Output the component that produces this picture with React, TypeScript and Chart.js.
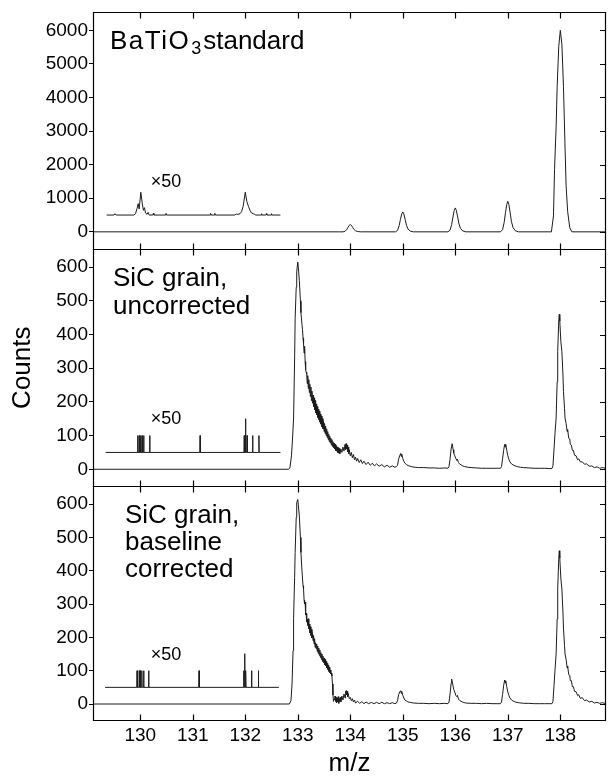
import React, { useEffect, useRef } from "react";
import { Chart, registerables } from "chart.js";

Chart.register(...registerables);

// ---------- axis ranges and ticks ----------
const X_MIN = 129.1;
const X_MAX = 138.87;
const X_TICKS = [130, 131, 132, 133, 134, 135, 136, 137, 138];
const PANEL_IDS = ["y1", "y2", "y3"];
const Y1_RANGE = [-519, 6533];
const Y2_RANGE = [-50, 653];
const Y3_RANGE = [-48, 654];
const Y1_TICKS = [0, 1000, 2000, 3000, 4000, 5000, 6000];
const Y23_TICKS = [0, 100, 200, 300, 400, 500, 600];

// ---------- text ----------
const TITLE_1 = ["BaTiO", "3", "standard"];
const TITLE_2 = ["SiC grain,", "uncorrected"];
const TITLE_3 = ["SiC grain,", "baseline", "corrected"];
const INSET_LABEL = "\u00d750";
const INSET_LABEL_X = 130.2;
const INSET_LABEL_Y = [1320, 133, 131];
const X_TITLE = "m/z";
const Y_TITLE = "Counts";

// ---------- data: BaTiO3 standard ----------
const batioMain: [number, number][] = [
  [129.1, 0], [133.8, 0],
  [133.86, 0], [133.9, 15], [133.93, 65], [133.955, 134], [133.98, 194], [134.0, 216], [134.02, 196], [134.045, 134], [134.07, 71], [134.1, 30], [134.14, 9], [134.2, 0],
  [134.86, 0], [134.9, 42], [134.93, 178], [134.955, 368], [134.98, 534], [135.0, 593], [135.02, 534], [135.045, 368], [135.07, 196], [135.1, 83], [135.14, 24], [135.2, 0],
  [135.86, 0], [135.9, 50], [135.93, 213], [135.955, 441], [135.98, 640], [136.0, 711], [136.02, 640], [136.045, 441], [136.07, 235], [136.1, 100], [136.14, 28], [136.2, 0],
  [136.86, 0], [136.9, 64], [136.93, 273], [136.955, 564], [136.98, 819], [137.0, 910], [137.02, 819], [137.045, 564], [137.07, 300], [137.1, 127], [137.14, 36], [137.2, 0],
  [137.83, 0], [137.87, 480], [137.89, 1860], [137.92, 3120], [137.94, 4320], [137.97, 5520], [138.0, 6000], [138.03, 5580], [138.06, 4320], [138.09, 2520], [138.11, 1380], [138.14, 600], [138.18, 120], [138.22, 0],
  [138.87, 0],
];

const batioInset: [number, number][] = [
  [129.36, 500], [129.5, 500], [129.52, 540], [129.54, 500], [129.88, 500], [129.91, 540], [129.94, 700], [129.96, 840],
  [129.98, 680], [130.01, 1180], [130.04, 830], [130.06, 640], [130.08, 720], [130.1, 560], [130.13, 520], [130.15, 580],
  [130.17, 500], [130.24, 500], [130.25, 550], [130.26, 500], [130.48, 500], [130.49, 550], [130.5, 500], [131.33, 500],
  [131.34, 550], [131.35, 500], [131.41, 500], [131.42, 550], [131.43, 500], [131.8, 500], [131.83, 530], [131.86, 520],
  [131.9, 540], [131.93, 600], [131.96, 760], [132.0, 1180], [132.03, 900], [132.06, 760], [132.09, 640], [132.12, 560],
  [132.15, 540], [132.18, 520], [132.2, 500], [132.3, 500], [132.31, 540], [132.32, 500], [132.39, 500], [132.4, 540],
  [132.41, 500], [132.49, 500], [132.5, 540], [132.51, 500], [132.67, 500],
];

// ---------- data: SiC grain, uncorrected ----------
const sicRawMain: [number, number][] = [
  [129.1, 0], [132.82, 0], [132.85, 4], [132.88, 40], [132.9, 90], [132.92, 152], [132.94, 330], [132.95, 448], [132.97, 540], [132.98, 586],
  [133.0, 615], [133.01, 600], [133.03, 560], [133.05, 500], [133.06, 465], [133.08, 430], [133.09, 415], [133.1, 390], [133.11, 372], [133.12, 345],
  [133.13, 365], [133.14, 320], [133.15, 296], [133.16, 288], [133.17, 282], [133.18, 254], [133.19, 278], [133.2, 240], [133.21, 266], [133.22, 228],
  [133.23, 252], [133.24, 216], [133.25, 244], [133.26, 204], [133.27, 232], [133.28, 196], [133.29, 220], [133.3, 186], [133.31, 212], [133.32, 176],
  [133.33, 204], [133.34, 168], [133.35, 194], [133.36, 162], [133.37, 186], [133.38, 154], [133.39, 178], [133.4, 148], [133.41, 172], [133.42, 140],
  [133.43, 164], [133.44, 134], [133.45, 158], [133.46, 126], [133.47, 150], [133.48, 120], [133.49, 142], [133.5, 112], [133.51, 136], [133.52, 106],
  [133.53, 128], [133.54, 100], [133.55, 120], [133.56, 94], [133.57, 112], [133.58, 88], [133.59, 104], [133.6, 82], [133.61, 98], [133.62, 78],
  [133.63, 92], [133.64, 72], [133.65, 88], [133.66, 68], [133.67, 82], [133.68, 64], [133.69, 78], [133.7, 60], [133.71, 74], [133.72, 56],
  [133.73, 70], [133.74, 54], [133.75, 66], [133.76, 50], [133.77, 64], [133.78, 48], [133.79, 62], [133.8, 46], [133.82, 60], [133.84, 50],
  [133.86, 66], [133.88, 54], [133.9, 74], [133.91, 58], [133.92, 76], [133.93, 60], [133.94, 72], [133.95, 52], [133.96, 66], [133.97, 46],
  [133.98, 58], [134.0, 40], [134.02, 50], [134.04, 34], [134.06, 44], [134.08, 28], [134.1, 36], [134.12, 24], [134.14, 32], [134.17, 20],
  [134.2, 28], [134.23, 17], [134.26, 24], [134.3, 14], [134.34, 21], [134.38, 12], [134.42, 18], [134.46, 10], [134.5, 16], [134.55, 9],
  [134.6, 14], [134.65, 7], [134.7, 12], [134.75, 6], [134.8, 10], [134.85, 6], [134.88, 8],
  [134.9, 12], [134.92, 30], [134.94, 40], [134.96, 47], [134.97, 38], [134.98, 45], [135.0, 32], [135.02, 24], [135.04, 18], [135.07, 14],
  [135.1, 11], [135.14, 9], [135.18, 7], [135.24, 6], [135.3, 5], [135.4, 5], [135.5, 4], [135.6, 4], [135.7, 3], [135.8, 4], [135.86, 3],
  [135.88, 8], [135.9, 30], [135.92, 60], [135.94, 76], [135.96, 58], [135.97, 48], [135.99, 40], [136.01, 32], [136.03, 26], [136.04, 30],
  [136.06, 20], [136.08, 16], [136.11, 13], [136.14, 10], [136.18, 8], [136.24, 6], [136.3, 5], [136.4, 4], [136.5, 3], [136.6, 3], [136.7, 3],
  [136.8, 3], [136.86, 3],
  [136.88, 8], [136.9, 30], [136.92, 56], [136.94, 74], [136.95, 66], [136.96, 74], [136.98, 56], [137.0, 40], [137.02, 30], [137.04, 22],
  [137.07, 16], [137.1, 13], [137.14, 10], [137.18, 8], [137.24, 6], [137.3, 5], [137.4, 4], [137.5, 3], [137.6, 3], [137.7, 3], [137.8, 2], [137.84, 2],
  [137.86, 10], [137.88, 60], [137.9, 110], [137.92, 152], [137.94, 260], [137.95, 349], [137.97, 440], [137.98, 460], [137.99, 440], [138.01, 380],
  [138.03, 349], [138.05, 280], [138.06, 231], [138.08, 180], [138.09, 152], [138.11, 136], [138.13, 112], [138.14, 118], [138.16, 92], [138.18, 90],
  [138.19, 74], [138.21, 72], [138.23, 56], [138.25, 56], [138.27, 42], [138.3, 40], [138.33, 28], [138.35, 31], [138.38, 22], [138.42, 22],
  [138.46, 15], [138.5, 16], [138.55, 9], [138.6, 10], [138.65, 5], [138.7, 7], [138.75, 3], [138.8, 5], [138.87, 3],
];

const sicRawInset: [number, number][] = [
  [129.34, 50], [129.945, 50], [129.95, 100], [129.955, 50], [129.975, 50], [129.98, 100], [129.985, 50], [130.0, 50], [130.005, 100],
  [130.01, 50], [130.03, 50], [130.035, 100], [130.04, 50], [130.06, 50], [130.065, 100], [130.07, 50], [130.175, 50], [130.18, 100],
  [130.185, 50], [131.135, 50], [131.14, 100], [131.145, 50], [131.975, 50], [131.98, 100], [131.985, 50], [132.0, 50], [132.005, 150],
  [132.01, 50], [132.03, 50], [132.035, 100], [132.04, 50], [132.135, 50], [132.14, 100], [132.145, 50], [132.255, 50], [132.26, 100],
  [132.265, 50], [132.67, 50],
];

// ---------- data: SiC grain, baseline corrected ----------
const sicCorrMain: [number, number][] = [
  [129.1, 0], [132.84, 0], [132.87, 10], [132.89, 57], [132.91, 160], [132.92, 256], [132.94, 380], [132.95, 455], [132.97, 560], [132.98, 604],
  [133.0, 614], [133.01, 598], [133.03, 564], [133.05, 500], [133.06, 455], [133.08, 400], [133.1, 355], [133.11, 345], [133.12, 312], [133.13, 300],
  [133.14, 306], [133.15, 268], [133.16, 272], [133.17, 246], [133.18, 254], [133.19, 236], [133.2, 256], [133.21, 226], [133.22, 240], [133.23, 214],
  [133.24, 232], [133.25, 206], [133.26, 224], [133.27, 198], [133.28, 214], [133.29, 190], [133.3, 206], [133.31, 180], [133.32, 196], [133.33, 170],
  [133.34, 184], [133.35, 166], [133.36, 180], [133.37, 158], [133.38, 174], [133.39, 152], [133.4, 168], [133.41, 146], [133.42, 162], [133.43, 140],
  [133.44, 154], [133.45, 134], [133.46, 150], [133.47, 128], [133.48, 144], [133.49, 124], [133.5, 138], [133.51, 118], [133.52, 134], [133.53, 114],
  [133.54, 128], [133.55, 108], [133.56, 122], [133.57, 104], [133.58, 116], [133.59, 98], [133.6, 110], [133.61, 94], [133.62, 102], [133.63, 90],
  [133.64, 92], [133.65, 84], [133.66, 60], [133.67, 27], [133.68, 8], [133.69, 14], [133.7, 12], [133.71, 24], [133.72, 8], [133.73, 20],
  [133.74, 4], [133.75, 18], [133.76, 6], [133.77, 22], [133.78, 2], [133.79, 16], [133.8, 8], [133.81, 20], [133.82, 6], [133.84, 24],
  [133.86, 12], [133.88, 30], [133.9, 18], [133.91, 36], [133.92, 40], [133.93, 28], [133.94, 38], [133.95, 22], [133.96, 32], [133.98, 16],
  [134.0, 20], [134.02, 10], [134.04, 16], [134.06, 6], [134.08, 12], [134.1, 3], [134.14, 8], [134.18, 2], [134.22, 7], [134.26, 1],
  [134.3, 6], [134.35, 1], [134.4, 5], [134.45, 1], [134.5, 5], [134.55, 1], [134.6, 5], [134.65, 1], [134.7, 4], [134.75, 1], [134.8, 4],
  [134.85, 1], [134.88, 3],
  [134.9, 10], [134.92, 28], [134.94, 36], [134.96, 40], [134.97, 32], [134.98, 38], [135.0, 26], [135.02, 18], [135.04, 12], [135.07, 9],
  [135.1, 6], [135.14, 5], [135.2, 3], [135.3, 2], [135.4, 2], [135.5, 1], [135.6, 2], [135.7, 1], [135.8, 2], [135.86, 1],
  [135.88, 6], [135.9, 30], [135.92, 62], [135.93, 75], [135.95, 60], [135.97, 44], [135.99, 36], [136.01, 26], [136.03, 22], [136.04, 26],
  [136.06, 15], [136.08, 11], [136.11, 8], [136.15, 5], [136.2, 3], [136.3, 2], [136.4, 2], [136.5, 1], [136.6, 2], [136.7, 1], [136.8, 1], [136.86, 1],
  [136.88, 6], [136.9, 28], [136.92, 55], [136.94, 72], [136.95, 63], [136.96, 70], [136.98, 52], [137.0, 36], [137.02, 26], [137.04, 18],
  [137.07, 12], [137.1, 9], [137.14, 6], [137.2, 4], [137.3, 2], [137.4, 2], [137.5, 1], [137.6, 1], [137.7, 1], [137.8, 1], [137.84, 1],
  [137.86, 8], [137.88, 55], [137.9, 105], [137.92, 150], [137.94, 255], [137.95, 345], [137.97, 435], [137.98, 460], [137.99, 438], [138.01, 378],
  [138.03, 345], [138.05, 276], [138.06, 228], [138.08, 176], [138.09, 150], [138.11, 134], [138.13, 108], [138.14, 114], [138.16, 88], [138.18, 86],
  [138.19, 70], [138.21, 70], [138.23, 52], [138.25, 52], [138.27, 38], [138.3, 37], [138.33, 25], [138.35, 28], [138.38, 17], [138.42, 19],
  [138.46, 10], [138.5, 12], [138.55, 6], [138.6, 8], [138.65, 3], [138.7, 5], [138.75, 2], [138.8, 4], [138.87, 1],
];

const sicCorrInset: [number, number][] = [
  [129.33, 50], [129.935, 50], [129.94, 100], [129.945, 50], [129.975, 50], [129.98, 100], [129.985, 50], [129.995, 50], [130.0, 100],
  [130.005, 50], [130.025, 50], [130.03, 100], [130.035, 50], [130.06, 50], [130.065, 100], [130.07, 50], [130.155, 50], [130.16, 100],
  [130.165, 50], [131.115, 50], [131.12, 100], [131.125, 50], [131.965, 50], [131.97, 100], [131.975, 50], [131.985, 50], [131.99, 151],
  [131.995, 50], [132.005, 50], [132.01, 100], [132.015, 50], [132.115, 50], [132.12, 100], [132.125, 50], [132.245, 50], [132.25, 100],
  [132.255, 50], [132.64, 50],
];

const FONT_FAMILY = '"Liberation Sans", Arial, Helvetica, sans-serif';
const LINE_COLOR = "#1c1c1c";

const framePlugin = {
  id: "panelFrames",
  afterDatasetsDraw(chart: any) {
    const ctx: CanvasRenderingContext2D = chart.ctx;
    const { left, right } = chart.chartArea;
    const xs = chart.scales.x;
    ctx.save();
    ctx.strokeStyle = "#000";
    ctx.lineWidth = 1.2;
    PANEL_IDS.forEach((id) => {
      const s = chart.scales[id];
      const top = Math.round(s.top) + 0.5;
      const bottom = Math.round(s.bottom) + 0.5;
      ctx.beginPath();
      ctx.rect(Math.round(left) + 0.5, top, Math.round(right - left) - 1, bottom - top);
      xs.ticks.forEach((t: any) => {
        const px = Math.round(xs.getPixelForValue(t.value)) + 0.5;
        ctx.moveTo(px, top);
        ctx.lineTo(px, top + 6);
        ctx.moveTo(px, bottom);
        ctx.lineTo(px, bottom - 6);
      });
      s.ticks.forEach((t: any) => {
        const py = Math.round(s.getPixelForValue(t.value)) + 0.5;
        ctx.moveTo(right, py);
        ctx.lineTo(right - 6, py);
      });
      ctx.stroke();
    });

    // panel titles
    ctx.fillStyle = "#000";
    ctx.textAlign = "left";
    ctx.textBaseline = "alphabetic";
    const big = `26px ${FONT_FAMILY}`;
    const s1 = chart.scales.y1;
    const s2 = chart.scales.y2;
    const s3 = chart.scales.y3;
    const anyCtx = ctx as any;
    const hasLS = "letterSpacing" in anyCtx;
    const x1 = left + 17;
    const b1 = s1.top + 37;
    ctx.font = big;
    if (hasLS) anyCtx.letterSpacing = "1.5px";
    ctx.fillText(TITLE_1[0], x1, b1);
    const w0 = ctx.measureText(TITLE_1[0]).width;
    if (hasLS) anyCtx.letterSpacing = "0px";
    ctx.font = `18px ${FONT_FAMILY}`;
    const xs3 = x1 + w0 + 1;
    ctx.fillText(TITLE_1[1], xs3, b1 + 5);
    const w1 = ctx.measureText(TITLE_1[1]).width;
    ctx.font = big;
    ctx.fillText(TITLE_1[2], xs3 + w1 + 2, b1);
    TITLE_2.forEach((line, i) => ctx.fillText(line, left + 20, s2.top + 37 + i * 28));
    TITLE_3.forEach((line, i) => ctx.fillText(line, left + 32, s3.top + 37 + i * 27));

    // x50 labels
    ctx.font = `18px ${FONT_FAMILY}`;
    PANEL_IDS.forEach((id, i) => {
      const s = chart.scales[id];
      ctx.fillText(INSET_LABEL, xs.getPixelForValue(INSET_LABEL_X), s.getPixelForValue(INSET_LABEL_Y[i]));
    });
    ctx.restore();
  },
};

function yAxis(range: number[], tickValues: number[], weight: number, stackWeight: number, title?: string) {
  return {
    type: "linear",
    position: "left",
    stack: "panels",
    stackWeight,
    weight,
    min: range[0],
    max: range[1],
    border: { display: false },
    grid: { display: true, drawOnChartArea: false, drawTicks: true, tickLength: 4, color: "#000", lineWidth: 1 },
    ticks: {
      padding: 1,
      autoSkip: false,
      color: "#000",
      font: { size: 19, family: FONT_FAMILY },
      callback: (v: number) => String(v),
    },
    afterBuildTicks: (scale: any) => {
      scale.ticks = tickValues.map((v) => ({ value: v }));
    },
    title: title
      ? { display: true, text: title, color: "#000", font: { size: 26, family: FONT_FAMILY }, padding: { top: 7, bottom: 0 } }
      : { display: false },
    afterFit: (scale: any) => {
      scale.width = 93;
    },
  };
}

export default function App() {
  const ref = useRef<HTMLCanvasElement | null>(null);
  useEffect(() => {
    if (!ref.current) return;
    Chart.defaults.font.family = FONT_FAMILY;
    Chart.defaults.color = "#000";
    const ds = (data: [number, number][], yAxisID: string) => ({
      data,
      yAxisID,
      xAxisID: "x",
      borderColor: LINE_COLOR,
      borderWidth: 1,
      pointRadius: 0,
      tension: 0,
      fill: false,
    });
    const chart = new Chart(ref.current, {
      type: "line",
      data: {
        datasets: [
          ds(batioMain, "y1"),
          ds(batioInset, "y1"),
          ds(sicRawMain, "y2"),
          ds(sicRawInset, "y2"),
          ds(sicCorrMain, "y3"),
          ds(sicCorrInset, "y3"),
        ],
      },
      options: {
        responsive: false,
        animation: false,
        events: [],
        layout: { padding: { top: 9, right: 2, left: 0, bottom: 0 } },
        plugins: { legend: { display: false }, tooltip: { enabled: false }, title: { display: false } },
        scales: {
          x: {
            type: "linear",
            position: "bottom",
            min: X_MIN,
            max: X_MAX,
            border: { display: false },
            grid: { display: false, drawTicks: false },
            ticks: {
              padding: 4,
              maxRotation: 0,
              autoSkip: false,
              color: "#000",
              font: { size: 19, family: FONT_FAMILY },
              callback: (v: number) => String(v),
            },
            afterBuildTicks: (scale: any) => {
              scale.ticks = X_TICKS.map((v) => ({ value: v }));
            },
            title: {
              display: true,
              text: X_TITLE,
              color: "#000",
              font: { size: 26, family: FONT_FAMILY, lineHeight: 1 },
              padding: { top: 0, bottom: 0 },
            },
            afterFit: (scale: any) => {
              scale.height = 57;
            },
          },
          y1: yAxis(Y1_RANGE, Y1_TICKS, 3, 238),
          y2: yAxis(Y2_RANGE, Y23_TICKS, 2, 238, Y_TITLE),
          y3: yAxis(Y3_RANGE, Y23_TICKS, 1, 235),
        },
      } as any,
      plugins: [framePlugin],
    });
    return () => chart.destroy();
  }, []);
  return (
    <div style={{ position: "fixed", left: 0, top: 0, width: 608, height: 777, background: "#fff" }}>
      <canvas ref={ref} width={608} height={777} style={{ display: "block" }} />
    </div>
  );
}
